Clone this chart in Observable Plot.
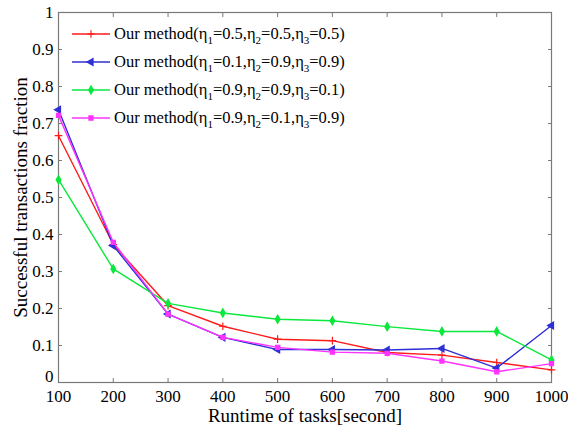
<!DOCTYPE html>
<html>
<head>
<meta charset="utf-8">
<script src="https://cdn.jsdelivr.net/npm/d3@7"></script>
<script src="https://cdn.jsdelivr.net/npm/@observablehq/plot@0.6"></script>
<style>
  html, body { margin: 0; padding: 0; background: #fff; }
  #wrap { position: relative; width: 568px; height: 425px; font-family: "Liberation Serif", Times, "DejaVu Serif", serif; }
  #chart svg, #chart svg text { font-family: "Liberation Serif", Times, "DejaVu Serif", serif !important; }
  #legend { position: absolute; left: 72px; top: 20px; font-size: 16.5px; color: #000; }
  #legend .row { height: 28px; display: flex; align-items: center; white-space: nowrap; }
  #legend svg { margin-right: 4px; overflow: visible; }
  #legend sub { font-size: 11px; vertical-align: -5px; line-height: 0; }
</style>
</head>
<body>
<div id="wrap"><div id="chart"></div><div id="legend"></div></div>
<script>
const runtime = [100, 200, 300, 400, 500, 600, 700, 800, 900, 1000];
const seriesA = [0.667, 0.373, 0.208, 0.152, 0.117, 0.113, 0.081, 0.074, 0.054, 0.034]; // η1=0.5,η2=0.5,η3=0.5
const seriesB = [0.737, 0.370, 0.185, 0.122, 0.089, 0.089, 0.088, 0.092, 0.039, 0.154]; // η1=0.1,η2=0.9,η3=0.9
const seriesC = [0.548, 0.307, 0.214, 0.188, 0.171, 0.167, 0.151, 0.138, 0.138, 0.061]; // η1=0.9,η2=0.9,η3=0.1
const seriesD = [0.722, 0.379, 0.185, 0.122, 0.095, 0.082, 0.079, 0.058, 0.029, 0.051]; // η1=0.9,η2=0.1,η3=0.9
const etas = [["0.5","0.5","0.5"], ["0.1","0.9","0.9"], ["0.9","0.9","0.1"], ["0.9","0.1","0.9"]];
const colors = ["#ff1a1a", "#2f2fd6", "#0ae83c", "#ff33ff"];
const xTicks = [100, 200, 300, 400, 500, 600, 700, 800, 900, 1000];
const yTicks = [0, 0.1, 0.2, 0.3, 0.4, 0.5, 0.6, 0.7, 0.8, 0.9, 1];

const allSeries = [seriesA, seriesB, seriesC, seriesD];
const symbols = [
  {symbol: "plus", r: 2.6, strokeOnly: true, rotate: 0},
  {symbol: "triangle", r: 2.6, rotate: -90},
  {symbol: "diamond", r: 2.5, rotate: 0},
  {symbol: "square", r: 2.3, rotate: 0}
];

const marks = [];
allSeries.forEach((vals, i) => {
  const data = runtime.map((x, j) => ({x, y: vals[j]}));
  marks.push(Plot.line(data, {x: "x", y: "y", stroke: colors[i], strokeWidth: 1.4}));
  const s = symbols[i];
  marks.push(Plot.dot(data, {
    x: "x", y: "y", symbol: s.symbol, r: s.r, rotate: s.rotate,
    stroke: colors[i], strokeWidth: 1.2,
    fill: s.strokeOnly ? "none" : colors[i]
  }));
});

const axisColor = "#7a7a7a";
const serif = "'Liberation Serif', Times, 'DejaVu Serif', serif";
const chart = Plot.plot({
  width: 568,
  height: 425,
  marginLeft: 58,
  marginRight: 17,
  marginTop: 12,
  marginBottom: 43,
  style: {fontFamily: serif, fontSize: "17px", background: "#fff", color: "#000"},
  x: {domain: [100, 1000]},
  y: {domain: [0, 1]},
  marks: [
    Plot.frame({stroke: axisColor, strokeWidth: 1.2}),
    Plot.axisX(xTicks, {anchor: "bottom", tickSize: -4, stroke: axisColor, text: null, label: null}),
    Plot.axisX(xTicks, {anchor: "top", tickSize: -4, stroke: axisColor, text: null, label: null}),
    Plot.axisY(yTicks, {anchor: "left", tickSize: -4, stroke: axisColor, text: null, label: null}),
    Plot.axisY(yTicks, {anchor: "right", tickSize: -4, stroke: axisColor, text: null, label: null}),
    Plot.axisX(xTicks, {anchor: "bottom", tickSize: 0, tickPadding: 7, fontSize: 17, fill: "#000",
      tickFormat: d => String(d), label: null}),
    Plot.axisX({anchor: "bottom", ticks: [], tickSize: 0, fontSize: 19, fill: "#000",
      label: "Runtime of tasks[second]", labelAnchor: "center", labelArrow: "none", labelOffset: 39}),
    Plot.axisY(yTicks.filter(d => d > 0), {anchor: "left", tickSize: 0, tickPadding: 5, fontSize: 17, fill: "#000",
      tickFormat: d => String(d), label: null}),
    Plot.axisY(yTicks.filter(d => d === 0), {anchor: "left", tickSize: 0, tickPadding: 5, fontSize: 17, fill: "#000",
      dy: -6, tickFormat: d => String(d), label: null}),
    Plot.axisY({anchor: "left", ticks: [], tickSize: 0, fontSize: 19, fill: "#000",
      label: "Successful transactions fraction", labelAnchor: "center", labelArrow: "none", labelOffset: 45}),
    ...marks
  ]
});
document.getElementById("chart").appendChild(chart);

// Legend (inside the plot area, top-left, no box)
const legend = document.getElementById("legend");
etas.forEach((e, i) => {
  const row = document.createElement("div");
  row.className = "row";
  const s = symbols[i];
  const svgNS = "http://www.w3.org/2000/svg";
  const svg = document.createElementNS(svgNS, "svg");
  svg.setAttribute("width", 38); svg.setAttribute("height", 10);
  const ln = document.createElementNS(svgNS, "line");
  ln.setAttribute("x1", 0); ln.setAttribute("x2", 38); ln.setAttribute("y1", 5); ln.setAttribute("y2", 5);
  ln.setAttribute("stroke", colors[i]); ln.setAttribute("stroke-width", 1.4);
  svg.appendChild(ln);
  const sym = d3.symbol().type({plus: d3.symbolPlus, triangle: d3.symbolTriangle, diamond: d3.symbolDiamond, square: d3.symbolSquare}[s.symbol]).size(Math.PI * s.r * s.r);
  const p = document.createElementNS(svgNS, "path");
  p.setAttribute("d", sym());
  p.setAttribute("transform", `translate(19,5) rotate(${s.rotate})`);
  p.setAttribute("stroke", colors[i]); p.setAttribute("stroke-width", 1.2);
  p.setAttribute("fill", s.strokeOnly ? "none" : colors[i]);
  svg.appendChild(p);
  row.appendChild(svg);
  const t = document.createElement("span");
  t.innerHTML = `Our method(η<sub>1</sub>=${e[0]},η<sub>2</sub>=${e[1]},η<sub>3</sub>=${e[2]})`;
  row.appendChild(t);
  legend.appendChild(row);
});
</script>
</body>
</html>
